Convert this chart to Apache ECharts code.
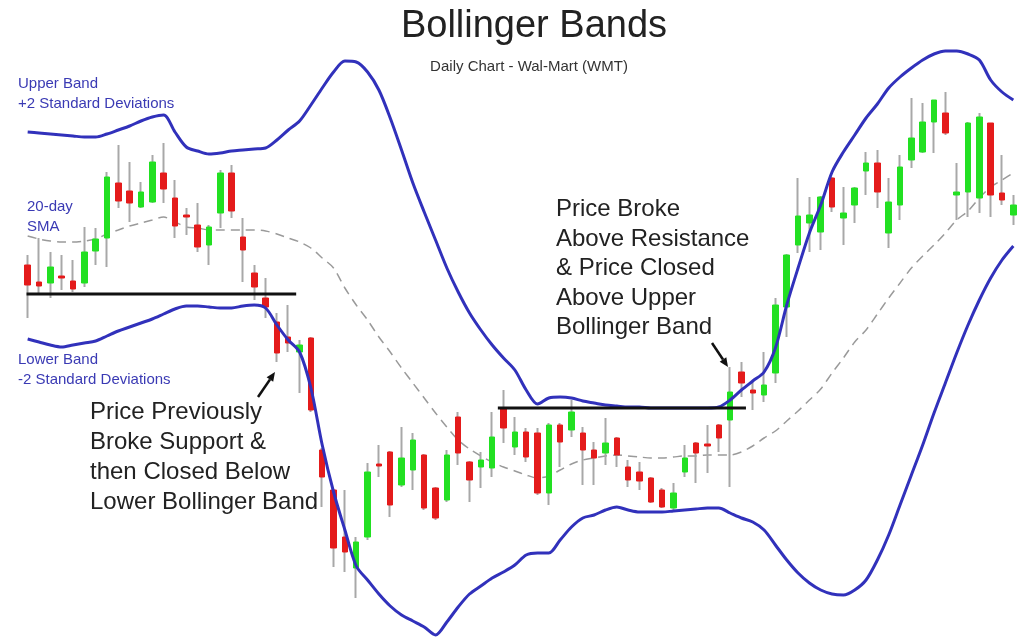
<!DOCTYPE html>
<html>
<head>
<meta charset="utf-8">
<title>Bollinger Bands</title>
<script src="https://cdn.jsdelivr.net/npm/echarts@6/dist/echarts.min.js"></script>
<style>
  html, body { margin: 0; padding: 0; background: #fff; }
  #chart { width: 1019px; height: 639px; }
</style>
</head>
<body>
<div id="chart"></div>
<script>
// daily prices (open, close, low, high)
var openP = [
  46.70, 46.36, 46.34, 46.48, 46.38, 46.34, 46.98, 47.24, 48.34, 48.18,
  47.86, 47.96, 48.54, 48.04, 47.70, 47.50, 47.10, 47.74, 48.54, 47.26,
  46.54, 46.04, 45.56, 45.26, 44.96, 45.24, 43.00, 42.20, 41.26, 40.64,
  41.26, 42.72, 42.96, 42.30, 42.60, 42.90, 42.24, 42.00, 43.66, 42.76,
  42.66, 42.64, 43.84, 43.06, 43.36, 43.34, 42.14, 43.50, 43.40, 43.34,
  43.00, 42.94, 43.24, 42.66, 42.56, 42.44, 42.20, 41.84, 42.56, 43.14,
  43.12, 43.50, 43.60, 44.56, 44.20, 44.10, 44.54, 45.86, 47.10, 47.54,
  47.36, 48.44, 47.64, 47.90, 48.58, 48.74, 47.34, 47.90, 48.80, 48.96,
  49.56, 49.74, 48.10, 48.16, 48.04, 49.54, 48.14, 47.70
];
var closeP = [
  46.30, 46.28, 46.66, 46.44, 46.22, 46.96, 47.22, 48.46, 47.98, 47.94,
  48.16, 48.76, 48.22, 47.48, 47.66, 47.06, 47.46, 48.54, 47.78, 47.00,
  46.26, 45.86, 44.94, 45.14, 45.10, 43.80, 42.46, 41.04, 40.96, 41.16,
  42.56, 42.68, 41.90, 42.84, 43.20, 41.84, 41.64, 42.90, 42.94, 42.40,
  42.80, 43.26, 43.44, 43.36, 42.86, 42.14, 43.50, 43.16, 43.76, 43.00,
  42.84, 43.14, 42.90, 42.40, 42.38, 41.96, 41.86, 42.14, 42.84, 42.94,
  43.08, 43.24, 44.16, 44.34, 44.14, 44.30, 45.90, 46.90, 47.68, 47.70,
  48.06, 47.86, 47.74, 48.24, 48.74, 48.16, 47.96, 48.66, 49.24, 49.56,
  50.00, 49.34, 48.16, 49.54, 49.66, 48.10, 48.00, 47.90
];
var lowP = [
  45.64, 46.10, 46.04, 46.20, 46.16, 46.26, 46.70, 46.66, 47.84, 47.56,
  47.84, 47.94, 47.94, 47.24, 47.30, 46.96, 46.70, 47.44, 47.64, 46.36,
  46.00, 45.64, 44.76, 44.96, 44.14, 43.76, 41.86, 40.66, 40.56, 40.04,
  41.20, 42.46, 41.66, 42.26, 42.20, 41.80, 41.60, 41.96, 42.70, 41.96,
  42.24, 42.46, 43.14, 42.90, 42.76, 42.10, 41.90, 42.66, 43.26, 42.30,
  42.30, 42.70, 42.66, 42.26, 42.20, 41.94, 41.84, 41.80, 42.46, 42.34,
  42.54, 42.96, 42.26, 44.06, 43.80, 43.96, 44.34, 45.26, 46.94, 46.96,
  47.00, 47.76, 47.10, 47.54, 48.10, 47.84, 47.04, 47.60, 48.64, 48.94,
  48.94, 49.30, 47.60, 47.66, 47.74, 47.66, 47.90, 47.50
];
var highP = [
  46.90, 47.24, 46.96, 46.90, 46.80, 47.46, 47.44, 48.56, 49.10, 48.76,
  48.36, 48.90, 49.14, 48.40, 47.84, 47.94, 47.50, 48.60, 48.70, 47.64,
  46.70, 46.44, 45.74, 45.90, 45.20, 45.26, 43.04, 42.22, 42.20, 41.26,
  42.74, 43.10, 42.98, 43.46, 43.34, 42.92, 42.26, 43.00, 43.76, 42.78,
  42.96, 43.76, 44.20, 43.66, 43.44, 43.44, 43.54, 43.54, 44.00, 43.46,
  43.16, 43.64, 43.26, 42.80, 42.76, 42.46, 42.24, 42.34, 43.10, 43.16,
  43.50, 43.52, 44.66, 44.76, 44.36, 44.96, 46.04, 46.92, 48.44, 48.06,
  48.08, 48.46, 48.26, 48.26, 48.96, 49.00, 48.44, 48.90, 50.04, 49.94,
  50.00, 50.16, 48.74, 49.56, 49.74, 49.54, 48.90, 48.10
];

// bands (upper +2 sd, 20-day sma, lower -2 sd)
var upperBand = [
  49.36, 49.34, 49.32, 49.30, 49.28, 49.26, 49.26, 49.32, 49.40, 49.48,
  49.58, 49.66, 49.70, 49.36, 49.06, 48.98, 48.92, 48.94, 48.98, 49.00,
  49.02, 49.04, 49.20, 49.40, 49.58, 49.90, 50.24, 50.56, 50.78, 50.76,
  50.56, 50.20, 49.64, 49.00, 48.34, 47.76, 47.20, 46.64, 46.16, 45.74,
  45.40, 45.10, 44.84, 44.60, 44.20, 43.92, 44.04, 44.06, 44.04, 43.98,
  43.94, 43.90, 43.88, 43.86, 43.86, 43.84, 43.84, 43.84, 43.84, 43.84,
  43.84, 43.86, 44.00, 44.20, 44.38, 44.56, 45.04, 45.90, 46.64, 47.34,
  47.90, 48.56, 48.96, 49.30, 49.64, 49.92, 50.24, 50.46, 50.64, 50.80,
  50.92, 50.98, 50.98, 50.92, 50.80, 50.40, 50.16, 50.00
];
var smaBand = [
  47.28, 47.22, 47.18, 47.16, 47.16, 47.18, 47.22, 47.32, 47.40, 47.48,
  47.54, 47.60, 47.66, 47.56, 47.46, 47.44, 47.40, 47.40, 47.40, 47.40,
  47.40, 47.38, 47.32, 47.24, 47.16, 47.04, 46.84, 46.64, 46.24, 45.90,
  45.60, 45.26, 44.96, 44.64, 44.34, 44.04, 43.74, 43.46, 43.20, 43.02,
  42.88, 42.76, 42.66, 42.58, 42.50, 42.44, 42.48, 42.60, 42.72, 42.80,
  42.84, 42.88, 42.90, 42.88, 42.86, 42.84, 42.84, 42.86, 42.88, 42.88,
  42.90, 42.90, 42.90, 42.96, 43.08, 43.24, 43.38, 43.58, 43.78, 44.00,
  44.22, 44.54, 44.84, 45.16, 45.40, 45.72, 46.04, 46.34, 46.64, 46.88,
  47.10, 47.34, 47.60, 47.78, 48.04, 48.26, 48.40, 48.54
];
var lowerBand = [
  45.22, 45.16, 45.10, 45.06, 45.10, 45.14, 45.18, 45.28, 45.38, 45.46,
  45.54, 45.62, 45.72, 45.82, 45.88, 45.88, 45.86, 45.84, 45.84, 45.88,
  45.90, 45.84, 45.50, 45.20, 44.96, 44.24, 43.10, 42.16, 41.40, 40.68,
  40.40, 40.12, 39.88, 39.70, 39.58, 39.46, 39.30, 39.56, 39.86, 40.12,
  40.28, 40.44, 40.56, 40.70, 40.90, 40.94, 40.94, 41.20, 41.46, 41.64,
  41.70, 41.80, 41.86, 41.80, 41.76, 41.76, 41.76, 41.78, 41.80, 41.82,
  41.84, 41.84, 41.74, 41.64, 41.56, 41.40, 41.10, 40.80, 40.54, 40.34,
  40.20, 40.12, 40.10, 40.20, 40.40, 40.80, 41.30, 41.90, 42.50, 43.10,
  43.74, 44.34, 44.94, 45.50, 46.00, 46.44, 46.80, 47.08
];

// support / resistance levels: [day position, price]
var supportLine = [[-0.1, 46.12], [23.7, 46.12]];
var resistanceLine = [[41.5, 43.84], [63.4, 43.84]];

var days = openP.map(function(v, i) { return 'Day ' + (i + 1); });

var wicks = openP.map(function(o, i) {
    return [o, closeP[i], lowP[i], highP[i]];
});
var bodies = openP.map(function(o, i) {
    return [o, closeP[i], Math.min(o, closeP[i]), Math.max(o, closeP[i])];
});

var chart = echarts.init(document.getElementById('chart'));

var blue = '#3131bb';
var labelBlue = '#3a3ab4';
var txtFont = '24px "Liberation Sans", Arial, sans-serif';
var smallFont = '15px "Liberation Sans", Arial, sans-serif';

chart.setOption({
    animation: false,
    backgroundColor: '#ffffff',
    grid: { left: 22, right: -7, top: 40, bottom: 0 },
    xAxis: [
        { type: 'category', data: days, boundaryGap: true, show: false },
        { type: 'value', min: -0.5, max: 87.5, show: false }
    ],
    yAxis: { type: 'value', min: 39.22, max: 51.2, show: false, splitLine: { show: false } },
    series: [
        {
            name: 'SMA', type: 'line', data: smaBand, symbol: 'none', smooth: 0.3, z: 1,
            lineStyle: { color: '#9a9a9a', width: 1.5, type: [9, 6] }
        },
        {
            name: 'wick', type: 'candlestick', data: wicks, barWidth: 1, z: 2,
            itemStyle: { color: '#a8a8a8', color0: '#a8a8a8', borderColor: '#a8a8a8', borderColor0: '#a8a8a8', borderWidth: 2 }
        },
        {
            name: 'body', type: 'candlestick', data: bodies, barWidth: 6, z: 3,
            itemStyle: { color: '#22e022', color0: '#e41b1b', borderColor: '#22e022', borderColor0: '#e41b1b', borderWidth: 1 }
        },
        {
            name: 'Upper', type: 'line', data: upperBand, symbol: 'none', smooth: 0.3, z: 4,
            lineStyle: { color: blue, width: 3 }
        },
        {
            name: 'Lower', type: 'line', data: lowerBand, symbol: 'none', smooth: 0.3, z: 4,
            lineStyle: { color: blue, width: 3 }
        },
        {
            name: 'Support', type: 'line', xAxisIndex: 1, data: supportLine, symbol: 'none', z: 5,
            lineStyle: { color: '#111', width: 3 }
        },
        {
            name: 'Resistance', type: 'line', xAxisIndex: 1, data: resistanceLine, symbol: 'none', z: 5,
            lineStyle: { color: '#111', width: 3 }
        }
    ],
    graphic: [
        { type: 'text', z: 10, style: { text: 'Bollinger Bands', x: 534, y: 27, textAlign: 'center', textVerticalAlign: 'middle', font: '38px "Liberation Sans", Arial, sans-serif', fill: '#222' } },
        { type: 'text', z: 10, style: { text: 'Daily Chart - Wal-Mart (WMT)', x: 529, y: 67, textAlign: 'center', textVerticalAlign: 'middle', font: '15px "Liberation Sans", Arial, sans-serif', fill: '#333' } },

        { type: 'text', z: 10, style: { text: 'Upper Band\n+2 Standard Deviations', x: 18, y: 74, lineHeight: 20, textVerticalAlign: 'top', font: smallFont, fill: labelBlue } },
        { type: 'text', z: 10, style: { text: '20-day\nSMA', x: 27, y: 197, lineHeight: 20, textVerticalAlign: 'top', font: smallFont, fill: labelBlue } },
        { type: 'text', z: 10, style: { text: 'Lower Band\n-2 Standard Deviations', x: 18, y: 350, lineHeight: 20, textVerticalAlign: 'top', font: smallFont, fill: labelBlue } },

        { type: 'text', z: 10, style: { text: 'Price Previously\nBroke Support &\nthen Closed Below\nLower Bollinger Band', x: 90, y: 397, lineHeight: 30, textVerticalAlign: 'top', font: txtFont, fill: '#222' } },
        { type: 'text', z: 10, style: { text: 'Price Broke\nAbove Resistance\n& Price Closed\nAbove Upper\nBollinger Band', x: 556, y: 195, lineHeight: 29.5, textVerticalAlign: 'top', font: txtFont, fill: '#222' } },

        // arrows
        { type: 'line', z: 10, shape: { x1: 258, y1: 397, x2: 270, y2: 379.5 }, style: { stroke: '#111', lineWidth: 2.5 } },
        { type: 'polygon', z: 10, shape: { points: [[275, 372], [273.2, 381.7], [266.6, 377.2]] }, style: { fill: '#111' } },
        { type: 'line', z: 10, shape: { x1: 712, y1: 343, x2: 723, y2: 359.5 }, style: { stroke: '#111', lineWidth: 2.5 } },
        { type: 'polygon', z: 10, shape: { points: [[728, 367], [726.3, 357.3], [719.7, 361.7]] }, style: { fill: '#111' } }
    ]
});
</script>
</body>
</html>
